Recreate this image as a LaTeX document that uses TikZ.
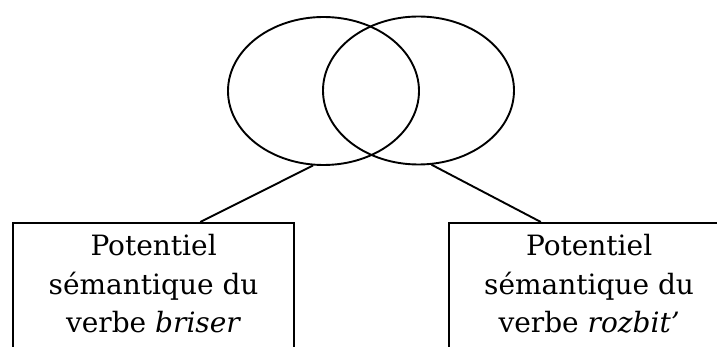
\documentclass[tikz,border=0pt]{standalone}
\usepackage{fontspec}
\setmainfont{DejaVu Serif}
\usetikzlibrary{shapes.geometric,calc}
\begin{document}
\begin{tikzpicture}[x=1pt,y=-1pt,
  ring/.style={draw=black,line width=1.9pt,ellipse,minimum width=191pt,minimum height=148pt,inner sep=0pt},
  frame/.style={draw=black,line width=2.2pt,rectangle,inner sep=0pt,anchor=north west},
  boxtext/.style={anchor=north,align=center,inner sep=0pt,font=\fontsize{28}{38.5}\selectfont},
  link/.style={draw=black,line width=1.9pt}]
\useasboundingbox (0,0) rectangle (717,347);
\clip (0,0) rectangle (717,347);
\node[ring] (e1) at (323.5,91) {};
\node[ring] (e2) at (418.5,90.5) {};
\node[frame,minimum width=281pt,minimum height=160pt] (b1) at (12,222) {};
\node[frame,minimum width=280pt,minimum height=160pt] (b2) at (448,222) {};
\node[boxtext] (t1) at ($(b1.north)+(0,12.5)$) {Potentiel\\sémantique du\\verbe \textit{briser}};
\node[boxtext] (t2) at ($(b2.north)+(0,12.5)$) {Potentiel\\sémantique du\\verbe \textit{rozbit’}};
\coordinate (p1) at ($(b1.north west)!0.665!(b1.north east)$);
\coordinate (p2) at ($(b2.north west)!0.329!(b2.north east)$);
\draw[link] (e1.-98) -- (p1);
\draw[link] (e2.-80) -- (p2);
\end{tikzpicture}
\end{document}
